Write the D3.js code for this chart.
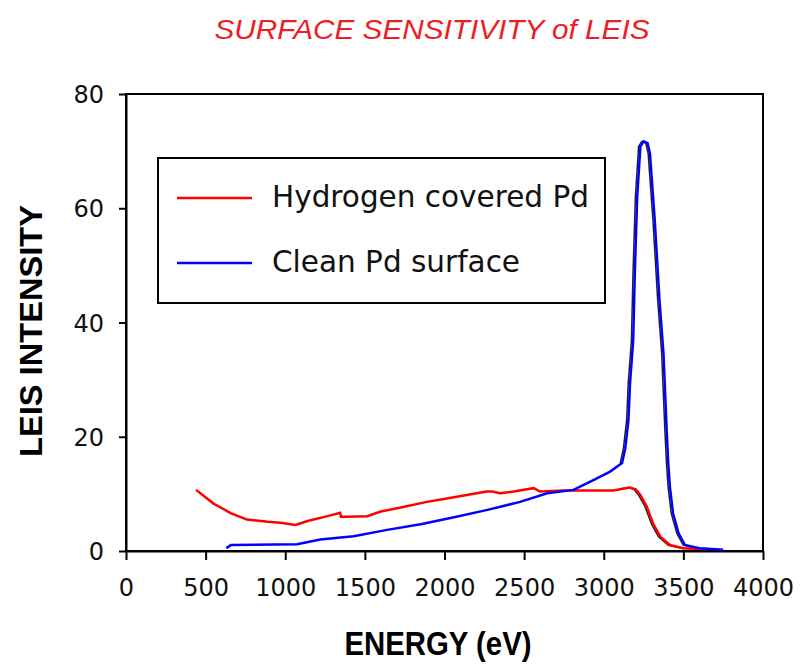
<!DOCTYPE html>
<html><head><meta charset="utf-8">
<script src="https://cdn.jsdelivr.net/npm/d3@7"></script>
<style>body{margin:0;background:#fff}svg{display:block}</style>
</head><body>
<svg id="c" width="800" height="664"></svg>
<script>
const title = "SURFACE SENSITIVITY of LEIS";
const xTitle = "ENERGY (eV)";
const yTitle = "LEIS INTENSITY";
const seriesNames = ["Hydrogen covered Pd", "Clean Pd surface"];
const xTicks = [0, 500, 1000, 1500, 2000, 2500, 3000, 3500, 4000];
const yTicks = [0, 20, 40, 60, 80];

const hydroE = [440, 550, 660, 760, 890, 970, 1065, 1140, 1265, 1345, 1350, 1390, 1515, 1600, 1725, 1890, 2015, 2140, 2265, 2300, 2350, 2435, 2560, 2600, 2750, 2900, 3060, 3120, 3165, 3200, 3230, 3270, 3310, 3355, 3415, 3500, 3580, 3650];
const hydroI = [10.7, 8.3, 6.6, 5.5, 5.1, 4.95, 4.55, 5.25, 6.1, 6.7, 6.0, 6.0, 6.1, 6.9, 7.6, 8.6, 9.2, 9.8, 10.4, 10.4, 10.1, 10.4, 11.0, 10.4, 10.6, 10.6, 10.6, 10.9, 11.1, 10.8, 9.8, 7.8, 4.8, 2.5, 1.05, 0.5, 0.4, 0.3];

const cleanE = [630, 660, 1075, 1220, 1430, 1640, 1850, 2060, 2270, 2475, 2645, 2810, 2935, 3040, 3115, 3135, 3155, 3165, 3185, 3195, 3210, 3230, 3250, 3275, 3290, 3320, 3350, 3375, 3395, 3405, 3415, 3435, 3470, 3510, 3600, 3750];
const cleanI = [0.5, 1.05, 1.2, 2.0, 2.6, 3.7, 4.7, 5.9, 7.2, 8.6, 10.1, 10.7, 12.4, 13.9, 15.4, 18, 22.9, 29.4, 36.9, 48.6, 62, 70.8, 71.7, 71.4, 69.6, 58, 43.9, 34.6, 21.2, 15.4, 11.3, 6.6, 3.1, 1.05, 0.5, 0.2];

const colors = ["#ff0000", "#0000ff"];

const svg = d3.select("#c");
const L = 126, R = 763, T = 94, B = 551;
const x = d3.scaleLinear().domain([0, 4000]).range([L, R]);
const y = d3.scaleLinear().domain([0, 80]).range([B, T]);

// title
svg.append("text").attr("x", 432).attr("y", 39).attr("text-anchor", "middle")
  .attr("font-family", "Liberation Sans, Arial, sans-serif").attr("font-style", "italic")
  .attr("font-size", 28).attr("fill", "#ee1c24")
  .attr("textLength", 435).attr("lengthAdjust", "spacingAndGlyphs").text(title);

// frame
svg.append("rect").attr("x", L).attr("y", T).attr("width", R - L).attr("height", B - T)
  .attr("fill", "none").attr("stroke", "#000").attr("stroke-width", 2);

// axes
const xa = svg.append("g").attr("transform", `translate(0,${B})`)
  .call(d3.axisBottom(x).tickValues(xTicks).tickSize(9).tickSizeOuter(0).tickFormat(d3.format("d")));
const ya = svg.append("g").attr("transform", `translate(${L},0)`)
  .call(d3.axisLeft(y).tickValues(yTicks).tickSize(7).tickSizeOuter(0).tickFormat(d3.format("d")));
[xa, ya].forEach(a => {
  a.select(".domain").attr("stroke", "#000").attr("stroke-width", 2);
  a.selectAll(".tick line").attr("stroke", "#000").attr("stroke-width", 2);
  a.selectAll("text").attr("font-family", "DejaVu Sans, sans-serif").attr("font-size", 24).attr("fill", "#111");
});
xa.selectAll("text").attr("dy", null).attr("y", 45);
ya.selectAll("text").attr("x", -22).attr("dy", "0.36em");

// axis titles
svg.append("text").attr("x", 438).attr("y", 655).attr("text-anchor", "middle")
  .attr("font-family", "Liberation Sans, Arial, sans-serif").attr("font-weight", "bold")
  .attr("font-size", 33).attr("textLength", 187).attr("lengthAdjust", "spacingAndGlyphs").text(xTitle);
svg.append("text").attr("transform", "translate(42,331) rotate(-90)").attr("text-anchor", "middle")
  .attr("font-family", "Liberation Sans, Arial, sans-serif").attr("font-weight", "bold")
  .attr("font-size", 32).attr("textLength", 252).attr("lengthAdjust", "spacingAndGlyphs").text(yTitle);

// lines
const line = d3.line().x(d => x(d[0])).y(d => y(d[1]));
const hydro = hydroE.map((e, i) => [e, hydroI[i]]);
const clean = cleanE.map((e, i) => [e, cleanI[i]]);
// dark edge along the steep part
[hydro, clean].forEach(s => {
  svg.append("path").datum(s.filter(d => d[0] >= 3100)).attr("d", line)
    .attr("transform", "translate(-1.8,0)")
    .attr("fill", "none").attr("stroke", "#222").attr("stroke-width", 1.5);
});
svg.append("path").datum(hydro).attr("d", line).attr("fill", "none")
  .attr("stroke", colors[0]).attr("stroke-width", 2.5);
svg.append("path").datum(clean).attr("d", line).attr("fill", "none")
  .attr("stroke", colors[1]).attr("stroke-width", 2.5);

// legend
const lg = svg.append("g");
lg.append("rect").attr("x", 158).attr("y", 158).attr("width", 447).attr("height", 145)
  .attr("fill", "#fff").attr("stroke", "#000").attr("stroke-width", 2);
seriesNames.forEach((n, i) => {
  const yy = [198, 263][i];
  lg.append("line").attr("x1", 177).attr("x2", 252).attr("y1", yy).attr("y2", yy)
    .attr("stroke", colors[i]).attr("stroke-width", 2.5);
  lg.append("text").attr("x", 272).attr("y", yy + 9).attr("font-family", "DejaVu Sans, sans-serif")
    .attr("font-size", 29.5).attr("fill", "#111").text(n);
});
</script>
</body></html>
